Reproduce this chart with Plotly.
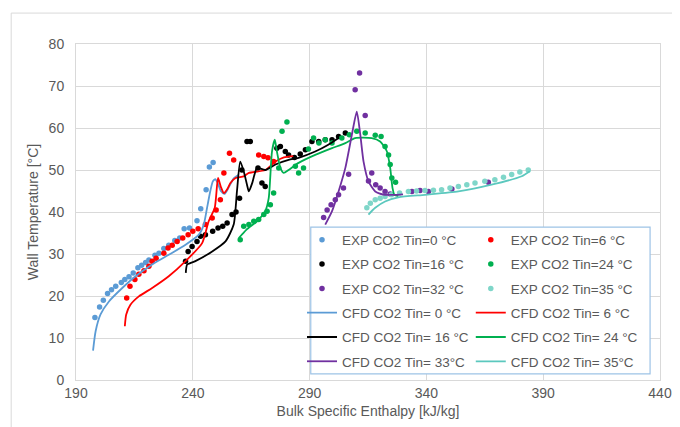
#%% Data ---------------------------------------------------------------

import plotly.graph_objects as go

# EXP points
exp0_x = [198.1, 200.1, 201.7, 203.5, 205.2, 207.0, 209.4, 210.9, 212.7, 214.5, 216.5, 218.1, 219.8, 221.2,
          223.8, 225.5, 227.6, 229.7, 232.3, 234.4, 236.3, 238.6, 241.8, 243.4, 245.7, 247.1, 248.7]
exp0_y = [14.9, 17.4, 19.0, 20.6, 21.5, 22.3, 23.2, 23.9, 24.6, 25.5, 26.7, 27.3, 28.0, 28.6,
          29.7, 30.2, 31.3, 32.1, 33.2, 33.8, 36.0, 36.2, 37.9, 40.8, 45.3, 50.7, 51.8]

exp6_x = [211.7, 213.1, 215.2, 216.9, 219.1, 221.2, 222.6, 224.3, 227.6, 229.4, 231.2, 233.3, 235.7, 238.0,
          240.0, 242.3, 245.4, 248.3, 250.0, 251.8, 253.3, 255.7, 257.5, 268.2, 270.4, 272.2, 274.6]
exp6_y = [19.5, 22.3, 23.9, 25.2, 26.0, 27.1, 28.3, 29.0, 30.2, 31.4, 32.1, 33.0, 33.8, 34.6,
          35.4, 36.0, 37.0, 38.6, 40.5, 42.9, 49.3, 54.0, 52.4, 53.6, 53.2, 52.9, 52.0]

exp16_x = [236.9, 238.0, 239.7, 241.8, 243.3, 245.4, 248.5, 250.8, 252.8, 254.7, 256.8, 258.5, 260.0, 261.0,
           263.2, 264.6, 267.9, 269.6, 271.0, 276.0, 277.5, 279.6, 281.0, 283.5, 286.0, 288.2, 291.0, 293.9,
           296.7, 299.6, 302.4, 305.3]
exp16_y = [28.3, 30.6, 31.8, 33.0, 34.2, 34.6, 35.4, 36.2, 36.6, 37.4, 39.4, 40.0, 43.3, 50.0,
           56.8, 56.8, 50.5, 46.9, 46.1, 55.2, 55.6, 54.4, 53.6, 53.0, 53.8, 54.8, 56.8, 56.8,
           57.2, 57.2, 58.0, 58.8]

exp24_x = [260.3, 261.8, 264.0, 266.1, 268.2, 270.4, 271.8, 273.2, 274.6, 276.8, 278.2, 280.3, 283.9, 285.3,
           287.4, 289.5, 291.7, 294.0, 296.7, 299.6, 303.8, 307.0, 310.2, 313.8, 318.1, 320.6, 322.3, 323.8,
           324.5, 325.2, 326.8]
exp24_y = [33.4, 36.6, 37.0, 37.8, 38.2, 39.4, 40.2, 41.7, 44.5, 50.5, 59.2, 61.4, 50.9, 49.3,
           50.5, 55.0, 57.6, 56.4, 57.2, 56.4, 57.6, 58.4, 59.2, 58.8, 58.3, 58.0, 55.6, 53.6,
           51.3, 48.1, 47.1]

exp32_x = [296.0, 297.5, 299.2, 301.0, 302.4, 304.5, 306.7, 309.5, 311.4, 313.8, 315.2, 316.6, 318.3, 320.2,
           322.3, 324.5, 333.8, 337.3, 340.9, 350.9, 366.5]
exp32_y = [38.7, 40.5, 41.7, 42.9, 44.1, 45.7, 49.0, 69.1, 73.1, 63.0, 47.4, 49.3, 46.5, 45.7,
           44.9, 44.3, 44.9, 45.1, 44.9, 45.5, 47.1]

exp35_x = [314.5, 316.0, 318.1, 320.2, 322.3, 325.0, 328.5, 332.3, 335.8, 339.4, 343.0, 346.5, 350.1, 353.7,
           357.3, 360.8, 365.0, 369.3, 373.0, 376.5, 380.0, 383.6]
exp35_y = [41.0, 42.1, 42.9, 43.3, 43.7, 44.1, 44.5, 44.9, 45.0, 45.1, 45.2, 45.3, 45.7, 46.1,
           46.5, 46.9, 47.3, 47.7, 48.3, 48.9, 49.5, 50.0]

# CFD curves
cfd0_x = [197.3, 198.4, 200.5, 204.1, 209.8, 215.5, 222.6, 229.7, 236.9, 242.6, 244.7, 246.1, 247.5, 248.6,
          249.6, 250.6, 252.0, 253.6, 255.5, 257.5, 259.5]
cfd0_y = [7.0, 11.6, 15.6, 18.7, 21.9, 24.7, 27.5, 29.8, 32.2, 34.6, 37.0, 41.0, 45.0, 47.3,
          47.8, 47.0, 45.0, 44.3, 46.0, 48.0, 48.8]

cfd6_x = [210.9, 211.5, 213.3, 216.9, 222.6, 229.7, 236.9, 244.0, 246.8, 249.4, 250.8, 252.0, 253.3, 254.8,
          256.1, 258.3, 261.8, 264.0, 271.0, 275.4, 279.0, 283.0]
cfd6_y = [12.8, 15.6, 17.9, 19.9, 21.9, 24.7, 28.3, 32.6, 37.8, 41.0, 48.1, 46.0, 44.5, 45.5,
          46.9, 48.1, 48.5, 49.3, 50.0, 52.0, 53.0, 53.3]

cfd16_x = [237.0, 237.6, 241.1, 248.3, 254.0, 257.5, 258.9, 260.3, 261.8, 263.2, 264.0, 265.5, 267.5, 271.0,
           275.4, 281.0, 285.3, 292.4, 298.0, 302.4]
cfd16_y = [25.5, 27.5, 28.3, 30.6, 33.0, 37.0, 44.9, 52.0, 49.7, 46.5, 44.9, 47.0, 50.5, 50.0,
           51.3, 52.4, 52.9, 54.4, 56.0, 57.6]

cfd24_x = [259.7, 263.0, 267.5, 271.0, 272.5, 273.9, 275.1, 276.0, 277.5, 278.9, 281.0, 285.3, 292.4, 299.6,
           305.3, 309.5, 316.6, 320.2, 323.1, 324.5, 325.5, 326.3, 328.0]
cfd24_y = [33.8, 35.8, 37.8, 40.2, 43.3, 54.4, 57.2, 54.4, 50.5, 49.3, 50.0, 51.7, 53.6, 55.2,
           56.4, 57.6, 57.6, 56.8, 54.4, 50.5, 45.7, 44.1, 43.8]

cfd33_x = [296.7, 299.6, 302.4, 305.3, 308.1, 310.2, 311.7, 313.1, 315.2, 318.1, 322.3, 326.6, 330.0]
cfd33_y = [37.0, 40.2, 44.9, 50.5, 58.4, 63.9, 58.4, 52.0, 47.3, 44.9, 44.1, 44.1, 44.2]

cfd35_x = [315.2, 318.1, 322.3, 328.0, 339.4, 353.7, 367.9, 380.8, 384.3]
cfd35_y = [39.4, 41.0, 42.5, 43.5, 44.1, 44.9, 46.5, 48.5, 49.7]

exp_series = [
    ('EXP CO2 Tin=0 °C', exp0_x, exp0_y, '#5B9BD5'),
    ('EXP CO2 Tin=6 °C', exp6_x, exp6_y, '#FF0000'),
    ('EXP CO2 Tin=16 °C', exp16_x, exp16_y, '#000000'),
    ('EXP CO2 Tin=24 °C', exp24_x, exp24_y, '#00B050'),
    ('EXP CO2 Tin=32 °C', exp32_x, exp32_y, '#7030A0'),
    ('EXP CO2 Tin=35 °C', exp35_x, exp35_y, '#7FD6C9'),
]
cfd_series = [
    ('CFD CO2 Tin= 0 °C', cfd0_x, cfd0_y, '#5B9BD5'),
    ('CFD CO2 Tin= 6 °C', cfd6_x, cfd6_y, '#FF0000'),
    ('CFD CO2 Tin= 16 °C', cfd16_x, cfd16_y, '#000000'),
    ('CFD CO2 Tin= 24 °C', cfd24_x, cfd24_y, '#00B050'),
    ('CFD CO2 Tin= 33°C', cfd33_x, cfd33_y, '#7030A0'),
    ('CFD CO2 Tin= 35°C', cfd35_x, cfd35_y, '#5BC8BE'),
]

#%% Plot ---------------------------------------------------------------

fig = go.Figure()

# one plotly legend per entry so the Excel-like 2-column box can be laid out by hand
legend_ids = ['legend'] + ['legend%d' % k for k in range(2, 13)]

for i, (name, x, y, c) in enumerate(exp_series):
    fig.add_trace(go.Scatter(x=x, y=y, name=name, mode='markers', legend=legend_ids[i],
                             showlegend=True, marker=dict(color=c, size=5.5)))

for i, (name, x, y, c) in enumerate(cfd_series):
    fig.add_trace(go.Scatter(x=x, y=y, name=name, mode='lines', legend=legend_ids[6 + i],
                             showlegend=True,
                             line=dict(color=c, width=1.8, shape='spline', smoothing=0.6)))

grid = '#D9D9D9'
fig.update_xaxes(range=[190, 440], dtick=50, tick0=190, showgrid=True, gridcolor=grid,
                 showline=True, linecolor=grid, mirror=True, zeroline=False, ticks='',
                 title_text='Bulk Specific Enthalpy [kJ/kg]', title_standoff=6,
                 tickfont=dict(size=14, color='#595959'), title_font=dict(size=14, color='#595959'))
fig.update_yaxes(range=[0, 80], dtick=10, showgrid=True, gridcolor=grid,
                 showline=True, linecolor=grid, mirror=True, zeroline=False, ticks='',
                 ticklabelstandoff=8,
                 title_text='Wall Temperature [°C]', title_standoff=6,
                 tickfont=dict(size=14, color='#595959'), title_font=dict(size=14, color='#595959'))

# outer chart frame
fig.add_shape(type='rect', xref='paper', yref='paper', x0=-0.111, x1=1.043, y0=-0.155, y1=1.092,
              line=dict(color='#D9D9D9', width=1))
# legend box
fig.add_shape(type='rect', xref='paper', yref='paper', x0=0.402, x1=0.983, y0=0.018, y1=0.455,
              layer='above', fillcolor='white', line=dict(color='#9DC3E6', width=1.2))

row_px = [232, 256.3, 280.6, 304.9, 329.2, 353.5]
col_x = [0.387, 0.676]
legends = {}
for k, lid in enumerate(legend_ids):
    row, col = k // 2, k % 2
    legends[lid] = dict(x=col_x[col], y=(372 - row_px[row]) / 336, xanchor='left', yanchor='middle',
                        bgcolor='rgba(0,0,0,0)', borderwidth=0,
                        font=dict(size=13.5, color='#595959'))

fig.update_layout(
    width=680, height=427,
    showlegend=True,
    margin=dict(l=68, r=28, t=36, b=55, autoexpand=False),
    paper_bgcolor='white', plot_bgcolor='white',
    font=dict(family='Liberation Sans, Arial, sans-serif', color='#595959'),
    **legends,
)

fig.write_html('out.html')
